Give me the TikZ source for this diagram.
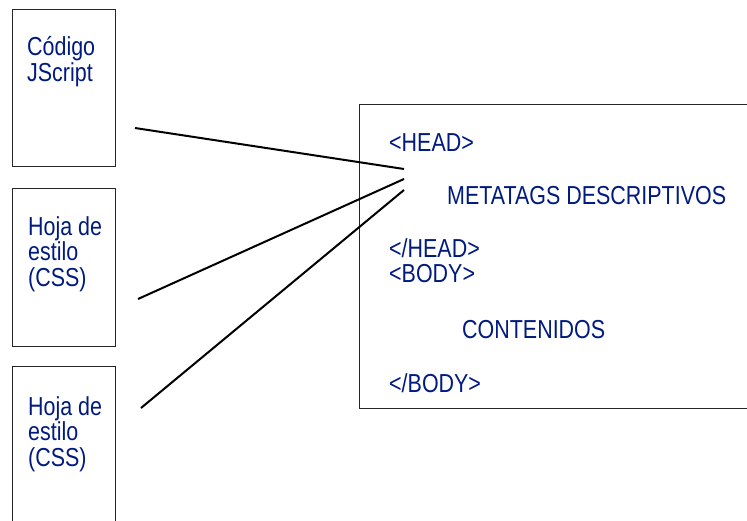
\documentclass[tikz,border=0pt]{standalone}
\usepackage{fontspec}
\setmainfont{Liberation Sans}[FakeStretch=0.825]
\definecolor{azul}{RGB}{0,26,128}
\tikzstyle{caja}=[draw=black!85, line width=0.9pt, anchor=north west]
\tikzstyle{texto}=[text=azul, font=\fontsize{26}{25.5}\selectfont, inner sep=0pt, align=left, anchor=base west]
\tikzstyle{linea}=[line width=2pt]

\begin{document}
\begin{tikzpicture}[x=1pt, y=-1pt]
  \clip (0, 0) rectangle (747, 520);
  \node[caja, minimum width=103, minimum height=157] (js) at (12, 9) {};
  \node[caja, minimum width=103, minimum height=158] (css) at (12, 188) {};
  \node[caja, minimum width=103, minimum height=170] (cssb) at (12, 366) {};
  \node[caja, minimum width=420, minimum height=304] (html) at (359, 104) {};

  % base = last line
  \node[texto] (jstxt) at (27, 81) {Código\\JScript};
  \node[texto] (csstxt) at (28, 286) {Hoja de\\estilo\\(CSS)};
  \node[texto] (cssbtxt) at (28, 466) {Hoja de\\estilo\\(CSS)};

  \node[texto] (head) at (389, 151) {<HEAD>};
  \node[texto] (meta) at (447, 204) {METATAGS DESCRIPTIVOS};
  \node[texto] (headfin) at (389, 257) {</HEAD>};
  \node[texto] (body) at (389, 282) {<BODY>};
  \node[texto] (cont) at (462, 338) {CONTENIDOS};
  \node[texto] (bodyfin) at (389, 392) {</BODY>};

  \coordinate (a1) at (135, 128);
  \coordinate (a2) at (138, 299);
  \coordinate (a3) at (141, 408);
  \coordinate (b1) at (404, 169);
  \coordinate (b2) at (404, 179);
  \coordinate (b3) at (404, 190);
  \draw[linea] (a1) -- (b1);
  \draw[linea] (a2) -- (b2);
  \draw[linea] (a3) -- (b3);
\end{tikzpicture}
\end{document}
